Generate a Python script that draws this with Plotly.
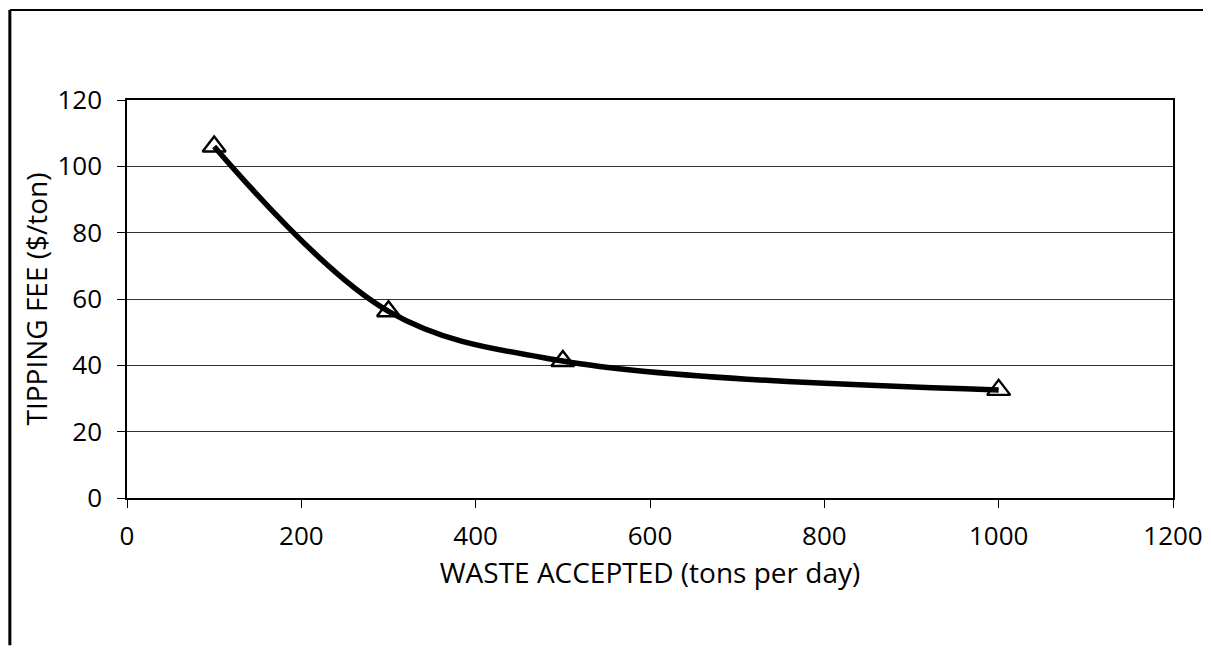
import plotly.graph_objects as go

waste = [100, 300, 500, 1000]
fee = [106, 56.3, 41.3, 32.6]

fig = go.Figure()
fig.add_trace(go.Scatter(
    x=waste, y=fee, mode="lines+markers",
    line=dict(color="black", width=5.5, shape="spline", smoothing=1),
    marker=dict(symbol="triangle-up-open", size=20, color="black",
                line=dict(width=2.4, color="black")),
    showlegend=False,
))

font = "'Open Sans', Lato, sans-serif"
# page body adds ~8px offset, so margins are trimmed to keep the plot where it belongs
fig.update_layout(
    width=1211, height=649,
    margin=dict(l=119, r=46, t=92, b=159),
    paper_bgcolor="white", plot_bgcolor="white",
    font=dict(family=font, color="black", size=26),
    xaxis=dict(
        range=[0, 1200], dtick=200, showgrid=False,
        showline=True, linecolor="black", linewidth=1.5, mirror=True,
        ticks="outside", ticklen=8, tickcolor="black", ticklabelstandoff=6,
        title=dict(text="WASTE ACCEPTED (tons per day)", font=dict(size=28), standoff=10),
        zeroline=False,
    ),
    yaxis=dict(
        range=[0, 120], dtick=20, showgrid=True, gridcolor="#333333", gridwidth=1,
        showline=True, linecolor="black", linewidth=1.5, mirror=True,
        ticks="outside", ticklen=8, tickcolor="black", ticklabelstandoff=10,
        title=dict(text="TIPPING FEE ($/ton)", font=dict(size=28), standoff=2),
        zeroline=False,
    ),
    shapes=[
        dict(type="line", xref="paper", yref="paper", x0=-0.112, x1=1.05, y0=1.226, y1=1.226,
             line=dict(color="black", width=2)),
        dict(type="line", xref="paper", yref="paper", x0=-0.112, x1=-0.112, y0=1.226, y1=-0.37,
             line=dict(color="black", width=3)),
    ],
)

fig.write_html("out.html")
